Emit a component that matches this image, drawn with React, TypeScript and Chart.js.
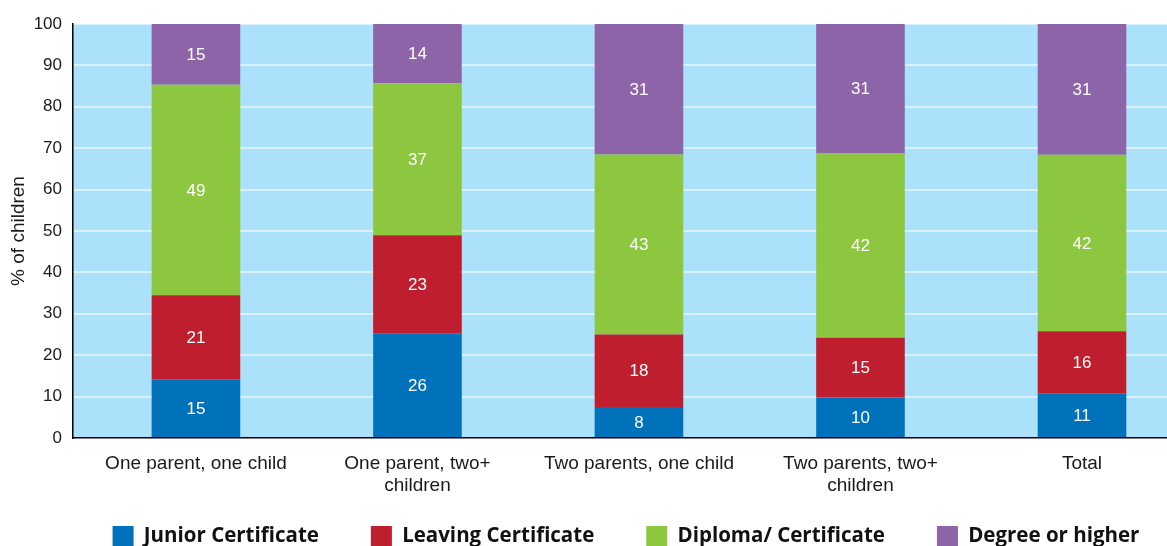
import React, { useEffect, useRef } from 'react';
import { Chart, registerables } from 'chart.js';

Chart.register(...registerables);

// ---- data ----
const categories: string[][] = [
  ['One parent, one child'],
  ['One parent, two+', 'children'],
  ['Two parents, one child'],
  ['Two parents, two+', 'children'],
  ['Total'],
];
const seriesNames = ['Junior Certificate', 'Leaving Certificate', 'Diploma/ Certificate', 'Degree or higher'];

// bar heights as drawn (%)
const juniorValues = [14.2, 25.3, 7.5, 9.8, 10.8];
const leavingValues = [20.3, 23.7, 17.5, 14.4, 15.0];
const diplomaValues = [50.8, 36.7, 43.5, 44.5, 42.6];
const degreeValues = [14.7, 14.3, 31.5, 31.3, 31.6];

// value labels printed inside the bars
const juniorLabels = [15, 26, 8, 10, 11];
const leavingLabels = [21, 23, 18, 15, 16];
const diplomaLabels = [49, 37, 43, 42, 42];
const degreeLabels = [15, 14, 31, 31, 31];

const yTickValues = [0, 10, 20, 30, 40, 50, 60, 70, 80, 90, 100];

const seriesValues = [juniorValues, leavingValues, diplomaValues, degreeValues];
const seriesLabels = [juniorLabels, leavingLabels, diplomaLabels, degreeLabels];
const seriesColors = ['#0072BC', '#BE1E2D', '#8DC63F', '#8E64A8'];

const FONT = "'Liberation Sans', Arial, Helvetica, sans-serif";

const plotBackground = {
  id: 'plotBackground',
  beforeDraw(chart: any) {
    const { ctx, chartArea } = chart;
    ctx.save();
    ctx.fillStyle = '#ABE1FA';
    ctx.fillRect(chartArea.left, chartArea.top, chartArea.right - chartArea.left, chartArea.bottom - chartArea.top);
    ctx.restore();
  },
};

const valueLabels = {
  id: 'valueLabels',
  afterDatasetsDraw(chart: any) {
    const { ctx } = chart;
    ctx.save();
    ctx.font = `17px ${FONT}`;
    ctx.fillStyle = '#ffffff';
    ctx.textAlign = 'center';
    ctx.textBaseline = 'middle';
    chart.data.datasets.forEach((ds: any, di: number) => {
      const meta = chart.getDatasetMeta(di);
      meta.data.forEach((el: any, i: number) => {
        const { x, y, base } = el.getProps(['x', 'y', 'base'], true);
        ctx.fillText(String(seriesLabels[di][i]), x, (y + base) / 2 + 1);
      });
    });
    ctx.restore();
  },
};

const CANVAS_W = 1252;
const CANVAS_H = 557;

export default function App() {
  const ref = useRef<HTMLCanvasElement>(null);
  useEffect(() => {
    Chart.defaults.font.family = FONT;
    const chart = new Chart(ref.current as HTMLCanvasElement, {
      type: 'bar',
      data: {
        datasets: seriesNames.map((name, si) => ({
          label: name,
          data: seriesValues[si].map((v, i) => ({ x: i, y: v })),
          backgroundColor: seriesColors[si],
          borderWidth: 0,
          categoryPercentage: 1,
          barPercentage: 0.4,
        })),
      },
      options: {
        responsive: false,
        animation: false,
        layout: { padding: { top: 24, left: 0, right: 0, bottom: 0 } },
        plugins: {
          tooltip: { enabled: false },
          legend: {
            position: 'bottom',
            labels: {
              boxWidth: 21,
              boxHeight: 21,
              padding: 52,
              color: '#111',
              font: { family: "'Open Sans', 'Noto Sans', sans-serif", size: 20.5, weight: 'bold' },
            },
          },
        },
        scales: {
          x: {
            type: 'linear',
            stacked: true,
            offset: false,
            min: -0.555,
            max: (CANVAS_W - 196) / 221.5,
            afterBuildTicks: (scale: any) => {
              scale.ticks = categories.map((_, i) => ({ value: i }));
            },
            afterFit: (scale: any) => {
              scale.height = 36;
              // let the two-line category labels run below the axis box (no clipping)
              scale._computeLabelArea = () => undefined;
            },
            ticks: {
              autoSkip: false,
              maxRotation: 0,
              minRotation: 0,
              padding: 14,
              color: '#1a1a1a',
              font: { family: FONT, size: 19 },
              callback: (v: any) => categories[v as number],
            },
            grid: { display: false, drawTicks: false },
            border: { display: true, color: '#000', width: 1.5 },
          },
          y: {
            stacked: true,
            min: 0,
            max: 100,
            afterBuildTicks: (scale: any) => {
              scale.ticks = yTickValues.map((v) => ({ value: v }));
            },
            afterFit: (scale: any) => {
              scale.width = 73;
            },
            ticks: {
              padding: 11,
              color: '#1a1a1a',
              font: { family: FONT, size: 17 },
            },
            grid: { color: 'rgba(255,255,255,0.55)', lineWidth: 2, drawTicks: false },
            border: { display: true, color: '#000', width: 1.5 },
            title: {
              display: true,
              text: '% of children',
              color: '#1a1a1a',
              font: { family: FONT, size: 19 },
              padding: { top: 7, bottom: 0 },
            },
          },
        },
      } as any,
      plugins: [plotBackground, valueLabels],
    });
    return () => chart.destroy();
  }, []);

  return (
    <div style={{ position: 'fixed', left: 0, top: 0, width: 1167, height: 546, overflow: 'hidden', background: '#fff' }}>
      <canvas ref={ref} width={CANVAS_W} height={CANVAS_H} style={{ display: 'block', width: CANVAS_W, height: CANVAS_H }} />
    </div>
  );
}
